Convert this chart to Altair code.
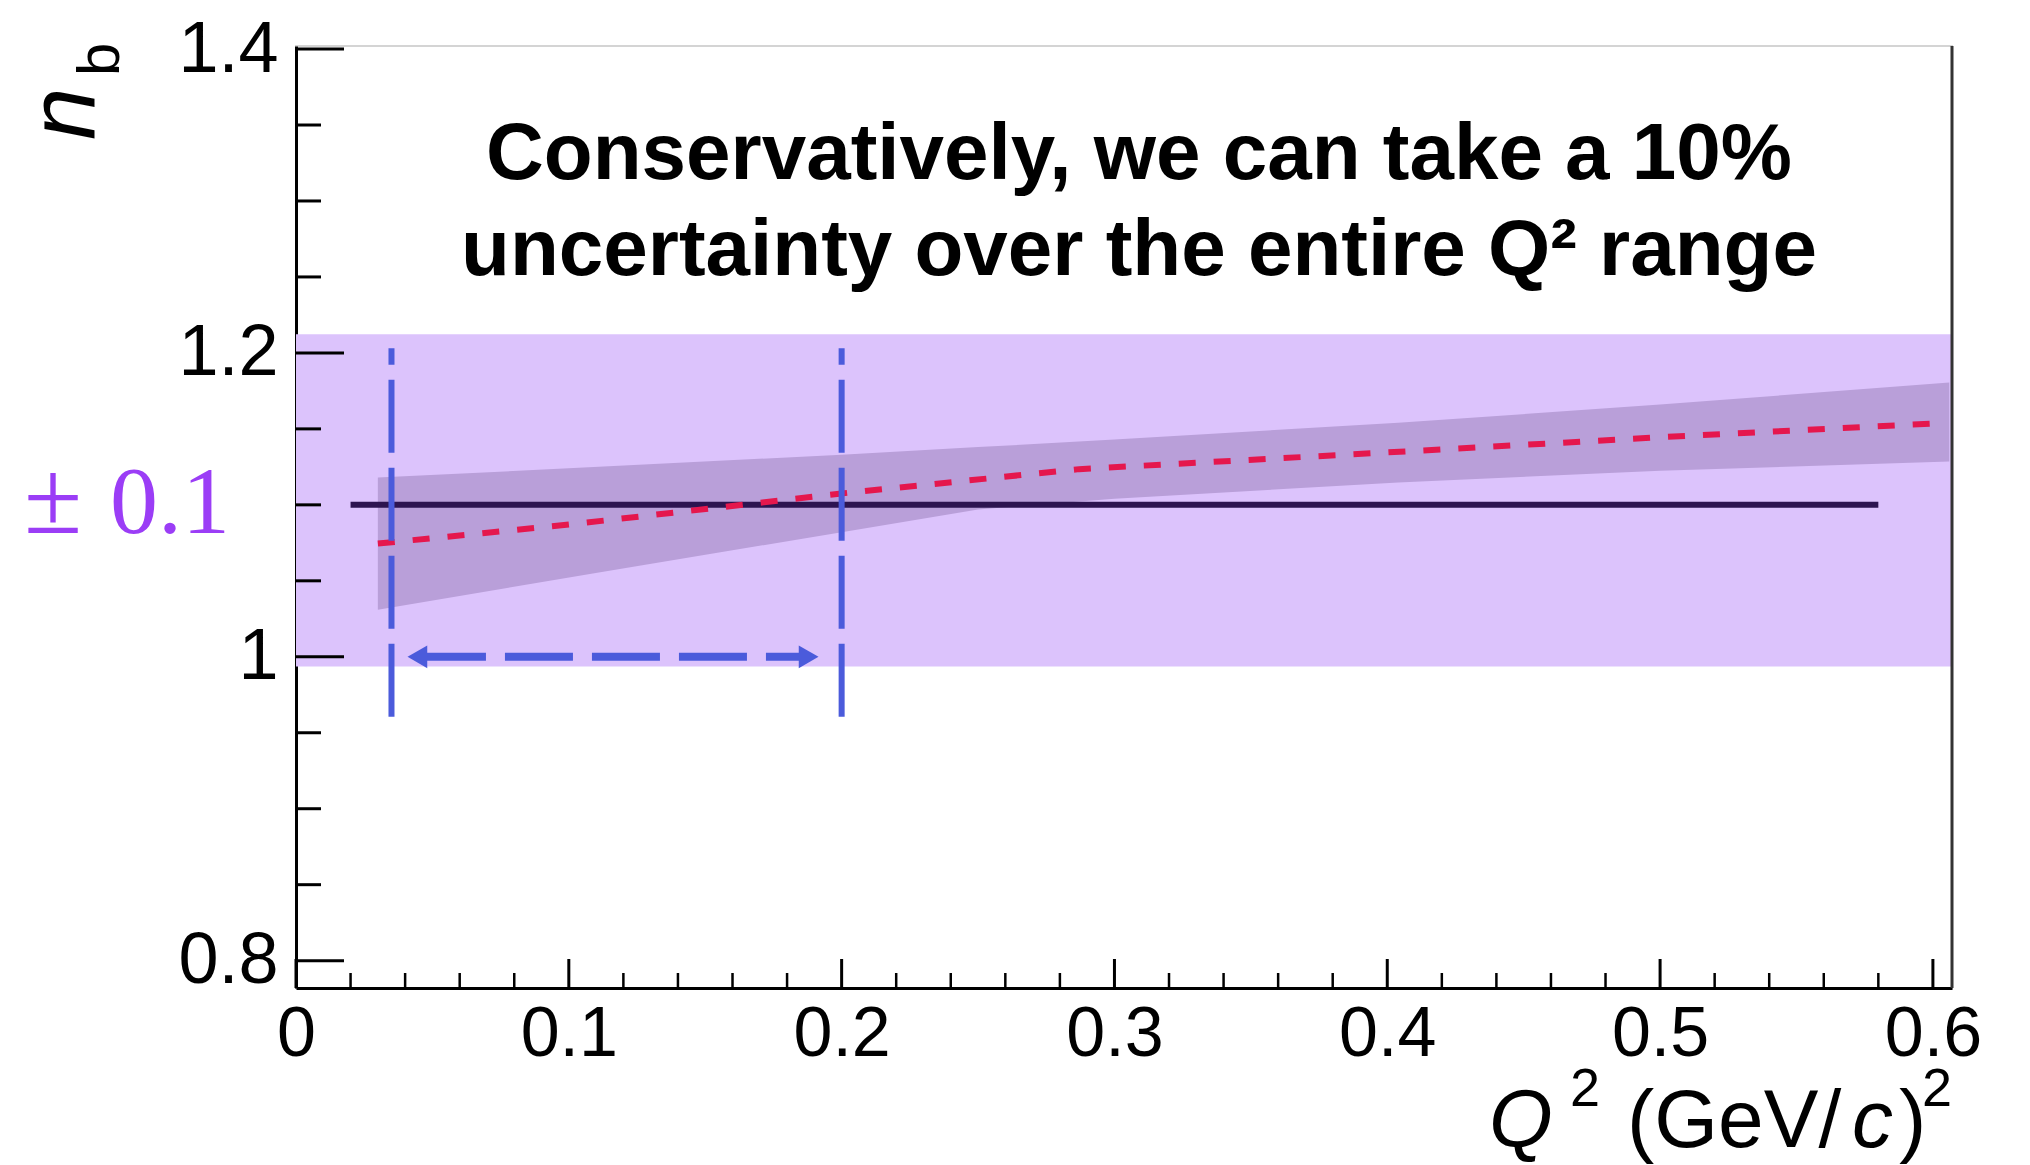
import altair as alt
import pandas as pd

# ---------------- data ----------------
# wide uncertainty box (+-0.1 around the constant)
box_x = [0.0, 0.607]
box_y = [0.9936, 1.2123]

# confidence band of the fit
band_x = [0.030, 0.111, 0.200, 0.250, 0.300, 0.404, 0.500, 0.606]
band_lo = [1.031, 1.0555, 1.082, 1.097, 1.104, 1.1147, 1.1225, 1.1285]
band_hi = [1.118, 1.125, 1.133, 1.138, 1.143, 1.154, 1.166, 1.1805]

# fit (red dashed)
fit_x = [0.030, 0.100, 0.200, 0.287, 0.400, 0.500, 0.600]
fit_y = [1.0745, 1.087, 1.1075, 1.1235, 1.1345, 1.1445, 1.1535]

# constant (black)
const_x = [0.02, 0.58]
const_y = 1.1

# vertical blue dash lines
vline_x = [0.035, 0.2]
vline_y = [0.9605, 1.203]

# double arrow
arrow_x = [0.0407, 0.1917]
arrow_y = 1.0

# axis ticks
x_major = [0, 0.1, 0.2, 0.3, 0.4, 0.5, 0.6]
x_minor = [0.02, 0.04, 0.06, 0.08, 0.12, 0.14, 0.16, 0.18, 0.22, 0.24, 0.26, 0.28,
           0.32, 0.34, 0.36, 0.38, 0.42, 0.44, 0.46, 0.48, 0.52, 0.54, 0.56, 0.58]
y_major = [0.8, 1.0, 1.2, 1.4]
y_minor = [0.85, 0.9, 0.95, 1.05, 1.1, 1.15, 1.25, 1.3, 1.35]

note_lines = ["Conservatively, we can take a 10%", "uncertainty over the entire Q\u00b2 range"]
note_y = [1.3145, 1.2513]
note_x = 0.309

# ---------------- layout ----------------
W, H = 1656, 942
X_DOM = [0, 0.607]
Y_DOM = [0.782, 1.402]
LEFT, TOP = 296, 46

xs = alt.Scale(domain=X_DOM, nice=False, zero=False)
ys = alt.Scale(domain=Y_DOM, nice=False, zero=False)

LABEL_FONT = "Liberation Sans"

xaxis = alt.Axis(values=x_major, format="~g", ticks=False, grid=False,
                 domainColor="black", domainWidth=3, labelFont=LABEL_FONT,
                 labelFontSize=70, labelColor="black", labelPadding=12,
                 title=None, labelFlush=False)
yaxis = alt.Axis(values=y_major, format="~g", ticks=False, grid=False,
                 domainColor="black", domainWidth=3, labelFont=LABEL_FONT,
                 labelFontSize=72, labelColor="black", labelPadding=18,
                 title=None, labelFlush=False)

box_df = pd.DataFrame({"x0": [box_x[0]], "x1": [box_x[1]], "y0": [box_y[0]], "y1": [box_y[1]]})
box = alt.Chart(box_df).mark_rect(color="#DCC3FC").encode(
    x=alt.X("x0:Q", scale=xs, axis=xaxis), x2="x1:Q",
    y=alt.Y("y0:Q", scale=ys, axis=yaxis), y2="y1:Q")

band_df = pd.DataFrame({"x": band_x, "lo": band_lo, "hi": band_hi})
band = alt.Chart(band_df).mark_area(color="#B99FD9", opacity=1).encode(
    x=alt.X("x:Q", scale=xs), y=alt.Y("lo:Q", scale=ys), y2="hi:Q")

const_df = pd.DataFrame({"x": const_x, "y": [const_y, const_y]})
const = alt.Chart(const_df).mark_line(color="#2D1450", strokeWidth=6).encode(
    x=alt.X("x:Q", scale=xs), y=alt.Y("y:Q", scale=ys))

fit_df = pd.DataFrame({"x": fit_x, "y": fit_y})
fit = alt.Chart(fit_df).mark_line(color="#E5174D", strokeWidth=6, strokeDash=[17, 18]).encode(
    x=alt.X("x:Q", scale=xs), y=alt.Y("y:Q", scale=ys))

vl_df = pd.DataFrame({"x": vline_x, "y0": [vline_y[0]] * 2, "y1": [vline_y[1]] * 2})
vlines = alt.Chart(vl_df).mark_rule(color="#4B5BDB", strokeWidth=6, strokeDash=[73, 15]).encode(
    x=alt.X("x:Q", scale=xs), y=alt.Y("y0:Q", scale=ys), y2="y1:Q")

ar_df = pd.DataFrame({"x0": [arrow_x[0] + 0.004], "x1": [arrow_x[1] - 0.004], "y": [arrow_y]})
arrow_line = alt.Chart(ar_df).mark_rule(color="#4B5BDB", strokeWidth=8, strokeDash=[68, 19]).encode(
    x=alt.X("x0:Q", scale=xs), x2="x1:Q", y=alt.Y("y:Q", scale=ys))

tips_df = pd.DataFrame({"x": [arrow_x[0] + 0.0038, arrow_x[1] - 0.0038],
                        "y": [arrow_y, arrow_y],
                        "shape": ["triangle-left", "triangle-right"]})
tips = alt.Chart(tips_df).mark_point(filled=True, color="#4B5BDB", opacity=1, size=520).encode(
    x=alt.X("x:Q", scale=xs), y=alt.Y("y:Q", scale=ys),
    shape=alt.Shape("shape:N", scale=None, legend=None))

# ticks (drawn inside the frame)
xmaj = alt.Chart(pd.DataFrame({"x": x_major})).mark_rule(color="black", strokeWidth=3).encode(
    x=alt.X("x:Q", scale=xs), y=alt.value(H), y2=alt.value(H - 29))
xmin = alt.Chart(pd.DataFrame({"x": x_minor})).mark_rule(color="black", strokeWidth=2.5).encode(
    x=alt.X("x:Q", scale=xs), y=alt.value(H), y2=alt.value(H - 15))
ymaj = alt.Chart(pd.DataFrame({"y": y_major})).mark_rule(color="black", strokeWidth=3).encode(
    y=alt.Y("y:Q", scale=ys), x=alt.value(0), x2=alt.value(48))
ymin = alt.Chart(pd.DataFrame({"y": y_minor})).mark_rule(color="black", strokeWidth=3).encode(
    y=alt.Y("y:Q", scale=ys), x=alt.value(0), x2=alt.value(25))

right_frame = alt.Chart(pd.DataFrame({"a": [0]})).mark_rule(color="#333333", strokeWidth=3).encode(
    x=alt.value(W), y=alt.value(0), y2=alt.value(H))

note_df = pd.DataFrame({"x": [note_x, note_x], "y": note_y, "t": note_lines})
note = alt.Chart(note_df).mark_text(font="Liberation Sans", fontWeight="bold", fontSize=80,
                                    color="black", align="center", baseline="alphabetic").encode(
    x=alt.X("x:Q", scale=xs), y=alt.Y("y:Q", scale=ys), text="t:N")


def txt(s, x, y, size, style="normal", font="Liberation Sans", color="black", angle=0, align="left"):
    kw = dict(font=font, fontSize=size, fontStyle=style, color=color, align=align,
              baseline="alphabetic")
    if angle:
        kw["angle"] = angle
    return alt.Chart(pd.DataFrame({"t": [s]})).mark_text(**kw).encode(
        x=alt.value(x), y=alt.value(y), text="t:N")


# x axis title: Q^2 (GeV/c)^2
xt_base = 1147 - TOP
xt_sup = 1106 - TOP
xtitle = [
    txt("Q", 1489 - LEFT, xt_base, 82, "italic"),
    txt("2", 1570 - LEFT, xt_sup, 54),
    txt("(GeV/", 1627 - LEFT, xt_base, 82),
    txt("c", 1852 - LEFT, xt_base, 82, "italic"),
    txt(")", 1899 - LEFT, xt_base, 82),
    txt("2", 1922 - LEFT, xt_sup, 54),
]

# y axis title: n_b (rotated)
ytitle = [
    txt("n", 95 - LEFT, 140 - TOP, 94, "italic", angle=270),
    txt("b", 119 - LEFT, 76 - TOP, 60, angle=270),
]

# +-0.1 label
pm = [
    txt("\u00b1", 24 - LEFT, 533 - TOP, 106, font="Liberation Serif", color="#9B3DF6"),
    txt("0.1", 110 - LEFT, 533 - TOP, 96, font="Liberation Serif", color="#9B3DF6"),
]

chart = alt.layer(
    box, band, const, fit, vlines, arrow_line, tips,
    xmaj, xmin, ymaj, ymin, right_frame, note, *xtitle, *ytitle, *pm
).properties(
    width=W, height=H,
    padding={"left": LEFT, "top": TOP, "right": 2030 - LEFT - W, "bottom": 1165 - TOP - H},
    autosize=alt.AutoSizeParams(type="none"),
    background="white",
).configure_view(stroke="#d4d4d4", strokeWidth=2)

chart.save("out.html", embed_options={"renderer": "svg", "actions": False})
